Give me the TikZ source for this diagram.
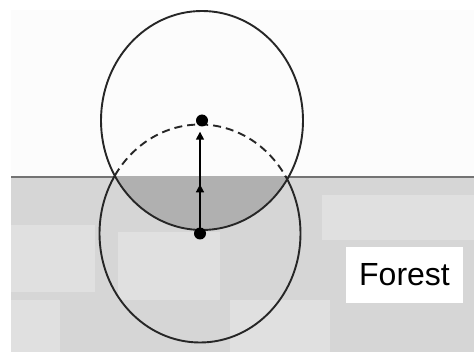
\documentclass[tikz,border=0pt]{standalone}
\usepackage{fontspec}
\setmainfont{Liberation Sans}
\usetikzlibrary{positioning, arrows.meta, decorations.markings}

\begin{document}
\begin{tikzpicture}[
    x = 1pt,
    y = -1pt,
    > = {Triangle[length=8pt, width=8pt]},
    dot/.style = {circle, fill = black, inner sep = 0pt, minimum size = 12pt},
    edgeline/.style = {line width = 1.9pt, black!85},
    midarrow/.style = {postaction = {decorate}, decoration = {markings,
        mark = at position 0.46 with {\arrow{>}}}},
    label box/.style = {fill = white, inner sep = 0pt,
        minimum width = 117pt, minimum height = 56pt, font = \fontsize{32}{36}\selectfont}
]
\useasboundingbox (0,0) rectangle (474,358);

% 1. Open ground and forest below the edge
\fill[black!1] (11,10) rectangle (474,177);
\fill[black!16] (11,177) rectangle (474,352);
\foreach \xa/\ya/\xb/\yb in {11/225/95/292, 118/232/220/300, 322/195/474/240, 230/300/330/352, 11/300/60/352} {
    \fill[black!12] (\xa,\ya) rectangle (\xb,\yb);
}
\draw[black!55, line width = 2pt] (11,177) -- (474,177);

% 2. Shaded part of the upper disc inside the forest
\begin{scope}
    \clip (0,177) rectangle (474,358);
    \fill[black!31] (202,120.5) ellipse [x radius = 101, y radius = 109.5];
\end{scope}

% 3. Circles (lower one dashed above the edge)
\draw[edgeline] (202,120.5) ellipse [x radius = 101, y radius = 109.5];
\begin{scope}
    \clip (0,0) rectangle (474,177);
    \draw[edgeline, dash pattern = on 8pt off 5pt] (200,233.5) ellipse [x radius = 100.5, y radius = 109];
\end{scope}
\begin{scope}
    \clip (0,177) rectangle (474,358);
    \draw[edgeline] (200,233.5) ellipse [x radius = 100.5, y radius = 109];
\end{scope}

% 4. Centres and the shift between them
\node[dot] (lower) at (200,233.5) {};
\node[dot] (upper) at (202,120.5) {};
\draw[->, line width = 1.5pt, shorten > = 5pt, midarrow] (lower.center) -- (lower.center |- upper.south);

% 5. Label
\node[label box] (forest) at (404.5,275) {Forest};

\end{tikzpicture}
\end{document}
